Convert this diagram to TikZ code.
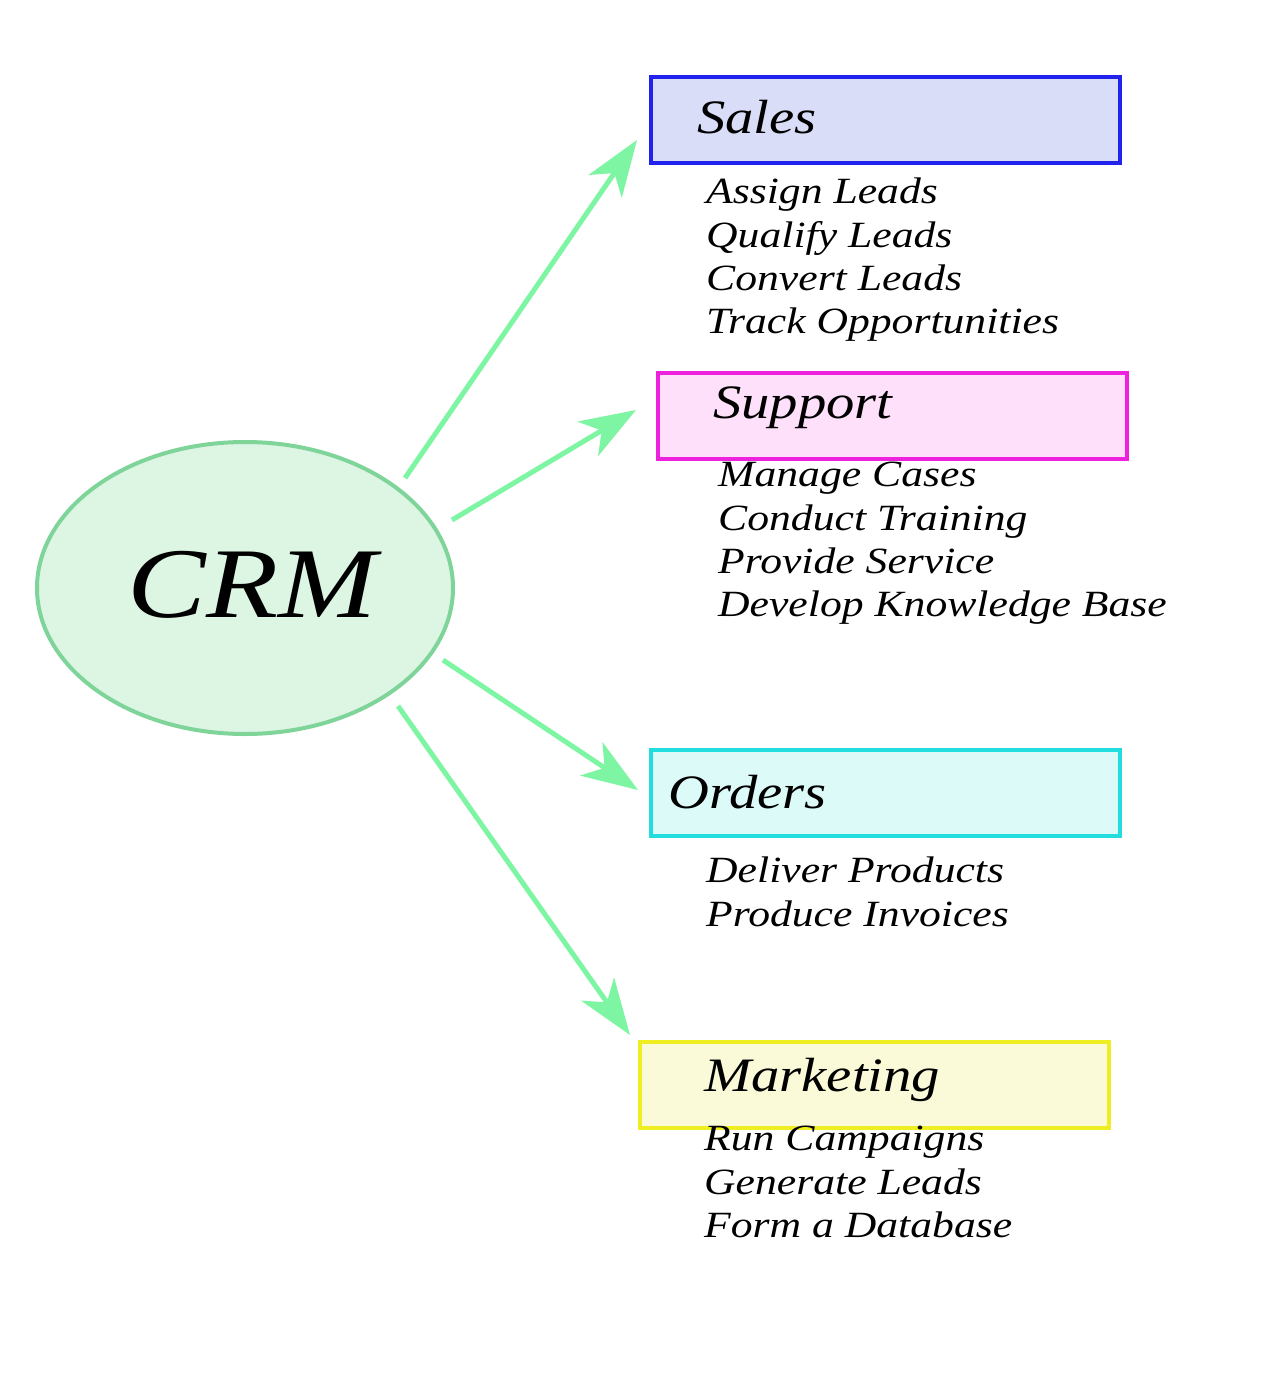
\documentclass[tikz,border=0pt]{standalone}
\usepackage{fontspec}
\setmainfont[FakeStretch=1.18]{Liberation Serif}
\usetikzlibrary{arrows.meta,shapes.geometric}
\definecolor{arr}{HTML}{7DF5A2}
\definecolor{eb}{HTML}{7FD49A}\definecolor{ef}{HTML}{DDF5E3}
\definecolor{sb}{HTML}{2222EE}\definecolor{sf}{HTML}{D9DDF8}
\definecolor{pb}{HTML}{EE22DD}\definecolor{pf}{HTML}{FFE0FA}
\definecolor{ob}{HTML}{22DDDD}\definecolor{of}{HTML}{DCFAF8}
\definecolor{mb}{HTML}{EEEE22}\definecolor{mf}{HTML}{FAFAD8}
\begin{document}
\begin{tikzpicture}[x=1pt,y=-1pt,
 box/.style={draw,line width=4pt,minimum width=469pt,minimum height=86pt,anchor=north west},
 head/.style={anchor=west,font=\fontsize{48}{50}\selectfont\itshape,inner sep=0},
 item/.style={anchor=north west,align=left,inner sep=0,font=\fontsize{37}{43.3}\selectfont\itshape},
 conn/.style={draw=arr,line width=5pt,-{Stealth[length=56pt,width=40pt,inset=16pt]}}]
\useasboundingbox (0,0) rectangle (1265,1390);
\node[ellipse,draw=eb,fill=ef,line width=4pt,minimum width=416pt,minimum height=292pt] (crm) at (245,588) {};
\node[font=\fontsize{100}{100}\selectfont\itshape] (crmt) at (252,585) {CRM};

\node[box,draw=sb,fill=sf] (sales) at (649,75) {};
\node[head] (salest) at (697,117) {Sales};
\node[item] (salesi) at (706,178) {Assign Leads\\Qualify Leads\\Convert Leads\\Track Opportunities};

\node[box,draw=pb,fill=pf] (sup) at (656,371) {};
\node[head] (supt) at (713,408) {Support};
\node[item] (supi) at (718,462) {Manage Cases\\Conduct Training\\Provide Service\\Develop Knowledge Base};

\node[box,draw=ob,fill=of] (ord) at (649,748) {};
\node[head] (ordt) at (668,792) {Orders};
\node[item] (ordi) at (706,857) {Deliver Products\\Produce Invoices};

\node[box,draw=mb,fill=mf] (mkt) at (638,1040) {};
\node[head] (mktt) at (704,1080) {Marketing};
\node[item] (mkti) at (704,1126) {Run Campaigns\\Generate Leads\\Form a Database};

\coordinate (a1) at (405,478); \coordinate (b1) at (637,140);
\coordinate (a2) at (452,520); \coordinate (b2) at (636,410);
\coordinate (a3) at (443,660); \coordinate (b3) at (638,790);
\coordinate (a4) at (398,706); \coordinate (b4) at (630,1035);
\draw[conn] (a1) -- (b1);
\draw[conn] (a2) -- (b2);
\draw[conn] (a3) -- (b3);
\draw[conn] (a4) -- (b4);
\end{tikzpicture}
\end{document}
